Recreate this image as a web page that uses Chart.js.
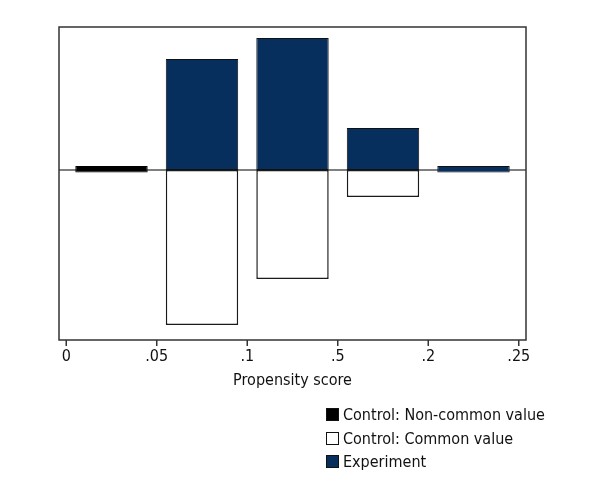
<!DOCTYPE html>
<html>
<head>
<meta charset="utf-8">
<script src="https://cdn.jsdelivr.net/npm/chart.js@4"></script>
<style>
    html, body { margin: 0; padding: 0; background: #fff; }
    #wrap { position: relative; width: 600px; height: 500px; }
    #legend {
        position: absolute; left: 326px; top: 403px;
        font-family: 'Liberation Sans Narrow', 'DejaVu Sans Condensed', sans-serif;
        font-size: 16px; color: #111;
    }
    .item { display: flex; align-items: center; height: 23.5px; }
    .box { width: 13px; height: 13px; margin-right: 4px; box-sizing: border-box; border: 1px solid #111; }
</style>
</head>
<body>
<div id="wrap">
    <canvas id="chart" width="600" height="500"></canvas>
    <div id="legend"></div>
</div>
<script>
const FONT = "'Liberation Sans Narrow', 'DejaVu Sans Condensed', sans-serif";

// bin midpoints on the propensity score axis
const binCenters = [0.025, 0.075, 0.125, 0.175, 0.225];
const experiment = [null, 1.11, 1.32, 0.42, [-0.025, 0.04]];
const controlCommon = [null, -1.55, -1.09, -0.27, null];
const controlNonCommon = [[-0.025, 0.04], null, null, null, null];

const tickValues = [0, 0.05, 0.1, 0.15, 0.2, 0.25];
const tickLabels = ['0', '.05', '.1', '.5', '.2', '.25'];

const seriesNames = ['Control: Non-common value', 'Control: Common value', 'Experiment'];
const seriesColors = ['#000000', '#ffffff', '#062f5e'];

function toPoints(values) {
    return binCenters.map((x, i) => ({ x: x, y: values[i] })).filter(p => p.y !== null);
}

const frame = {
    id: 'frame',
    beforeDatasetsDraw(chart) {
        const ctx = chart.ctx, a = chart.chartArea;
        const y0 = chart.scales.y.getPixelForValue(0);
        ctx.save();
        ctx.strokeStyle = '#000';
        ctx.lineWidth = 1;
        ctx.beginPath();
        ctx.moveTo(a.left, y0);
        ctx.lineTo(a.right, y0);
        ctx.stroke();
        ctx.restore();
    },
    afterDraw(chart) {
        const ctx = chart.ctx, a = chart.chartArea;
        const xs = chart.scales.x;
        ctx.save();
        ctx.strokeStyle = '#333';
        ctx.lineWidth = 1.5;
        ctx.strokeRect(a.left, a.top, a.right - a.left, a.bottom - a.top);
        // tick marks below the frame
        ctx.beginPath();
        tickValues.forEach(v => {
            const px = xs.getPixelForValue(v);
            ctx.moveTo(px, a.bottom);
            ctx.lineTo(px, a.bottom + 6);
        });
        ctx.stroke();
        ctx.restore();
    }
};

const ctx = document.getElementById('chart').getContext('2d');
new Chart(ctx, {
    type: 'bar',
    data: {
        datasets: [
            {
                label: seriesNames[0],
                data: toPoints(controlNonCommon),
                backgroundColor: seriesColors[0],
                borderColor: '#000',
                borderWidth: 1
            },
            {
                label: seriesNames[1],
                data: toPoints(controlCommon),
                backgroundColor: seriesColors[1],
                borderColor: '#1a1a1a',
                borderWidth: 1.5
            },
            {
                label: seriesNames[2],
                data: toPoints(experiment),
                backgroundColor: seriesColors[2],
                borderColor: '#111',
                borderWidth: 1
            }
        ]
    },
    options: {
        responsive: false,
        animation: false,
        layout: { padding: { top: 27, right: 74, left: 0, bottom: 110 } },
        datasets: {
            bar: { grouped: false, barPercentage: 0.8, categoryPercentage: 1.0, borderSkipped: false }
        },
        plugins: {
            legend: { display: false },
            tooltip: { enabled: false }
        },
        scales: {
            x: {
                type: 'linear',
                offset: false,
                min: -0.004,
                max: 0.254,
                afterFit: s => { s.height = 50; },
                afterBuildTicks: s => { s.ticks = tickValues.map(v => ({ value: v })); },
                border: { display: false },
                grid: { display: false, offset: false, tickLength: 6 },
                ticks: {
                    color: '#111',
                    font: { family: FONT, size: 16 },
                    padding: 1,
                    maxRotation: 0,
                    callback: function (value) {
                        const i = tickValues.findIndex(t => Math.abs(t - value) < 1e-9);
                        return i >= 0 ? tickLabels[i] : '';
                    }
                },
                title: {
                    display: true,
                    text: 'Propensity score',
                    color: '#111',
                    font: { family: FONT, size: 16 },
                    padding: { top: 4, bottom: 0 }
                }
            },
            y: {
                min: -1.70,
                max: 1.43,
                afterFit: s => { s.width = 59; },
                border: { display: false },
                grid: { display: false },
                ticks: { display: false }
            }
        }
    },
    plugins: [frame]
});

const legendEl = document.getElementById('legend');
seriesNames.forEach((name, i) => {
    const row = document.createElement('div');
    row.className = 'item';
    const box = document.createElement('span');
    box.className = 'box';
    box.style.background = seriesColors[i];
    row.appendChild(box);
    row.appendChild(document.createTextNode(name));
    legendEl.appendChild(row);
});
</script>
</body>
</html>
